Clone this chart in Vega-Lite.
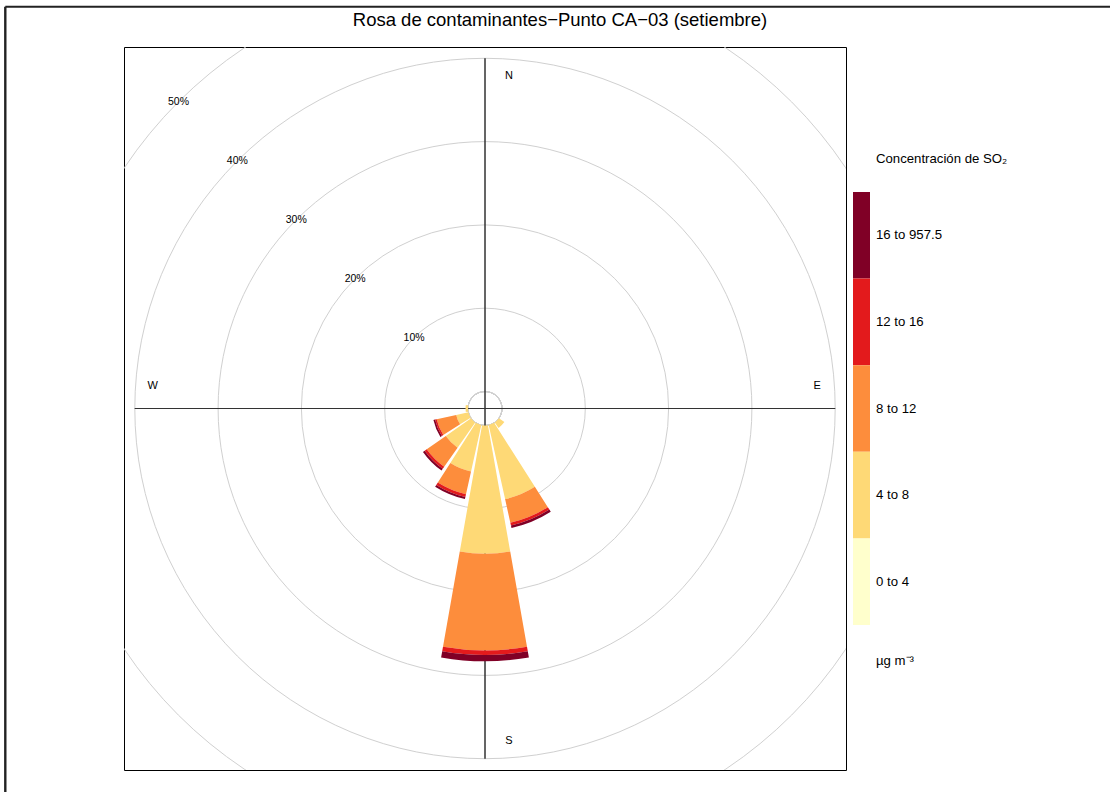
{
  "$schema": "https://vega.github.io/schema/vega-lite/v6.json",
  "autosize": {"type": "pad"},
  "padding": {"left": 3, "top": 4, "right": 0, "bottom": 0},
  "background": "white",
  "bounds": "flush",
  "spacing": 7,
  "config": {
    "view": {"stroke": "#000000", "strokeWidth": 1},
    "font": "Liberation Sans",
    "text": {"font": "Liberation Sans", "color": "#000000"}
  },
  "hconcat": [
    {
      "width": 722,
      "height": 723,
      "title": {
        "text": "Rosa de contaminantes−Punto CA−03 (setiembre)",
        "frame": "group",
        "anchor": "middle",
        "dx": 75,
        "offset": -39,
        "baseline": "alphabetic",
        "fontSize": 18.5,
        "fontWeight": "normal",
        "font": "Liberation Sans",
        "color": "#000000"
      },
      "layer": [
        {
          "data": {"values": [{"pct": 0}, {"pct": 10}, {"pct": 20}, {"pct": 30}, {"pct": 40}, {"pct": 50}]},
          "mark": {"type": "arc", "filled": false, "stroke": "#d0d0d0", "strokeWidth": 1, "clip": true},
          "encoding": {
            "theta": {"datum": 0, "type": "quantitative", "stack": null, "scale": {"type": "linear", "domain": [0, 360], "range": [0, 6.283185307179586], "zero": false, "nice": false}},
            "theta2": {"datum": 360},
            "radius": {"field": "pct", "type": "quantitative", "stack": null, "scale": {"type": "linear", "domain": [0, 50], "range": [17, 433.5], "zero": false, "nice": false}}
          }
        },
        {
          "data": {"values": [{"a": 0}, {"a": 90}, {"a": 180}, {"a": 270}]},
          "mark": {"type": "arc", "filled": false, "stroke": "#333333", "strokeWidth": 1, "radius2": 0},
          "encoding": {
            "theta": {"field": "a", "type": "quantitative", "stack": null, "scale": {"type": "linear", "domain": [0, 360], "range": [0, 6.283185307179586], "zero": false, "nice": false}},
            "theta2": {"field": "a"},
            "radius": {"datum": 40, "type": "quantitative", "stack": null, "scale": {"type": "linear", "domain": [0, 50], "range": [17, 433.5], "zero": false, "nice": false}}
          }
        },
        {
          "data": {"values": [
            {"dir": 180, "bin": "4 to 8", "lo": 4, "pct": 15.4},
            {"dir": 180, "bin": "8 to 12", "lo": 8, "pct": 11.6},
            {"dir": 180, "bin": "12 to 16", "lo": 12, "pct": 0.55},
            {"dir": 180, "bin": "16 to 957.5", "lo": 16, "pct": 0.75},
            {"dir": 157.5, "bin": "4 to 8", "lo": 4, "pct": 9.1},
            {"dir": 157.5, "bin": "8 to 12", "lo": 8, "pct": 2.9},
            {"dir": 157.5, "bin": "12 to 16", "lo": 12, "pct": 0.35},
            {"dir": 157.5, "bin": "16 to 957.5", "lo": 16, "pct": 0.3},
            {"dir": 202.5, "bin": "4 to 8", "lo": 4, "pct": 5.7},
            {"dir": 202.5, "bin": "8 to 12", "lo": 8, "pct": 2.8},
            {"dir": 202.5, "bin": "12 to 16", "lo": 12, "pct": 0.35},
            {"dir": 202.5, "bin": "16 to 957.5", "lo": 16, "pct": 0.25},
            {"dir": 225, "bin": "4 to 8", "lo": 4, "pct": 3.7},
            {"dir": 225, "bin": "8 to 12", "lo": 8, "pct": 2.8},
            {"dir": 225, "bin": "12 to 16", "lo": 12, "pct": 0.3},
            {"dir": 225, "bin": "16 to 957.5", "lo": 16, "pct": 0.25},
            {"dir": 247.5, "bin": "4 to 8", "lo": 4, "pct": 1.5},
            {"dir": 247.5, "bin": "8 to 12", "lo": 8, "pct": 2.4},
            {"dir": 247.5, "bin": "12 to 16", "lo": 12, "pct": 0.2},
            {"dir": 247.5, "bin": "16 to 957.5", "lo": 16, "pct": 0.2},
            {"dir": 270, "bin": "4 to 8", "lo": 4, "pct": 0.3},
            {"dir": 135, "bin": "4 to 8", "lo": 4, "pct": 0.8}
          ]},
          "transform": [
            {"stack": "pct", "groupby": ["dir"], "sort": [{"field": "lo"}], "as": ["r0", "r1"]},
            {"calculate": "datum.dir - 10", "as": "t0"},
            {"calculate": "datum.dir + 10", "as": "t1"}
          ],
          "mark": {"type": "arc"},
          "encoding": {
            "theta": {"field": "t0", "type": "quantitative", "stack": null, "scale": {"type": "linear", "domain": [0, 360], "range": [0, 6.283185307179586], "zero": false, "nice": false}},
            "theta2": {"field": "t1"},
            "radius": {"field": "r1", "type": "quantitative", "stack": null, "scale": {"type": "linear", "domain": [0, 50], "range": [17, 433.5], "zero": false, "nice": false}},
            "radius2": {"field": "r0"},
            "color": {
              "field": "bin", "type": "nominal", "legend": null,
              "scale": {"domain": ["0 to 4", "4 to 8", "8 to 12", "12 to 16", "16 to 957.5"], "range": ["#FFFFCC", "#FED976", "#FD8D3C", "#E31A1C", "#800026"]}
            }
          }
        },
        {
          "data": {"values": [{"pct": 10, "label": "10%"}, {"pct": 20, "label": "20%"}, {"pct": 30, "label": "30%"}, {"pct": 40, "label": "40%"}, {"pct": 50, "label": "50%"}]},
          "mark": {"type": "text", "fontSize": 10.5, "align": "center", "baseline": "middle", "color": "#000000"},
          "encoding": {
            "theta": {"datum": 315, "type": "quantitative", "stack": null, "scale": {"type": "linear", "domain": [0, 360], "range": [0, 6.283185307179586], "zero": false, "nice": false}},
            "radius": {"field": "pct", "type": "quantitative", "stack": null, "scale": {"type": "linear", "domain": [0, 50], "range": [17, 433.5], "zero": false, "nice": false}},
            "text": {"field": "label"}
          }
        },
        {
          "data": {"values": [{"l": "N", "a": 0}, {"l": "S", "a": 180}]},
          "mark": {"type": "text", "fontSize": 11, "align": "center", "baseline": "middle", "dx": 24, "color": "#000000"},
          "encoding": {
            "theta": {"field": "a", "type": "quantitative", "stack": null, "scale": {"type": "linear", "domain": [0, 360], "range": [0, 6.283185307179586], "zero": false, "nice": false}},
            "radius": {"datum": 37.85, "type": "quantitative", "stack": null, "scale": {"type": "linear", "domain": [0, 50], "range": [17, 433.5], "zero": false, "nice": false}},
            "text": {"field": "l"}
          }
        },
        {
          "data": {"values": [{"l": "E", "a": 90}, {"l": "W", "a": 270}]},
          "mark": {"type": "text", "fontSize": 11, "align": "center", "baseline": "middle", "dy": -23, "color": "#000000"},
          "encoding": {
            "theta": {"field": "a", "type": "quantitative", "stack": null, "scale": {"type": "linear", "domain": [0, 360], "range": [0, 6.283185307179586], "zero": false, "nice": false}},
            "radius": {"datum": 37.85, "type": "quantitative", "stack": null, "scale": {"type": "linear", "domain": [0, 50], "range": [17, 433.5], "zero": false, "nice": false}},
            "text": {"field": "l"}
          }
        },
        {
          "data": {"values": [{}]},
          "mark": {"type": "rule", "strokeWidth": 2, "color": "#222222"},
          "encoding": {
            "x": {"datum": -1.3288, "type": "quantitative", "scale": {"domain": [-1, 1], "zero": false, "nice": false}, "axis": null},
            "x2": {"datum": 1.7424},
            "y": {"datum": 1.1115, "type": "quantitative", "scale": {"domain": [-1, 1], "zero": false, "nice": false}, "axis": null}
          }
        },
        {
          "data": {"values": [{}]},
          "mark": {"type": "rule", "strokeWidth": 2.4, "color": "#222222"},
          "encoding": {
            "x": {"datum": -1.3288, "type": "quantitative", "scale": {"domain": [-1, 1], "zero": false, "nice": false}, "axis": null},
            "y": {"datum": 1.1115, "type": "quantitative", "scale": {"domain": [-1, 1], "zero": false, "nice": false}, "axis": null},
            "y2": {"datum": -1.09}
          }
        }
      ]
    },
    {
      "width": 17,
      "height": 723,
      "view": {"stroke": null},
      "layer": [
        {
          "data": {"values": [{"bin": "16 to 957.5"}, {"bin": "12 to 16"}, {"bin": "8 to 12"}, {"bin": "4 to 8"}, {"bin": "0 to 4"}]},
          "mark": {"type": "rect"},
          "encoding": {
            "y": {"field": "bin", "type": "nominal", "axis": null, "scale": {"domain": ["hdr", "16 to 957.5", "12 to 16", "8 to 12", "4 to 8", "0 to 4", "ftr"], "paddingInner": 0, "paddingOuter": 0.6745}},
            "color": {"field": "bin", "type": "nominal", "legend": null}
          }
        },
        {
          "data": {"values": [{"bin": "16 to 957.5"}, {"bin": "12 to 16"}, {"bin": "8 to 12"}, {"bin": "4 to 8"}, {"bin": "0 to 4"}]},
          "mark": {"type": "text", "align": "left", "baseline": "middle", "dx": 14.5, "fontSize": 13.2, "color": "#000000"},
          "encoding": {
            "y": {"field": "bin", "type": "nominal", "axis": null},
            "text": {"field": "bin"}
          }
        },
        {
          "data": {"values": [{}]},
          "mark": {"type": "text", "align": "left", "baseline": "middle", "dx": 14.5, "dy": 10.3, "fontSize": 13.2, "color": "#000000"},
          "encoding": {
            "y": {"datum": "hdr", "type": "nominal", "axis": null},
            "text": {"value": "Concentración de SO₂"}
          }
        },
        {
          "data": {"values": [{}]},
          "mark": {"type": "text", "align": "left", "baseline": "middle", "dx": 14.5, "dy": -7, "fontSize": 13.2, "color": "#000000"},
          "encoding": {
            "y": {"datum": "ftr", "type": "nominal", "axis": null},
            "text": {"value": "µg m⁻³"}
          }
        }
      ]
    }
  ]
}
